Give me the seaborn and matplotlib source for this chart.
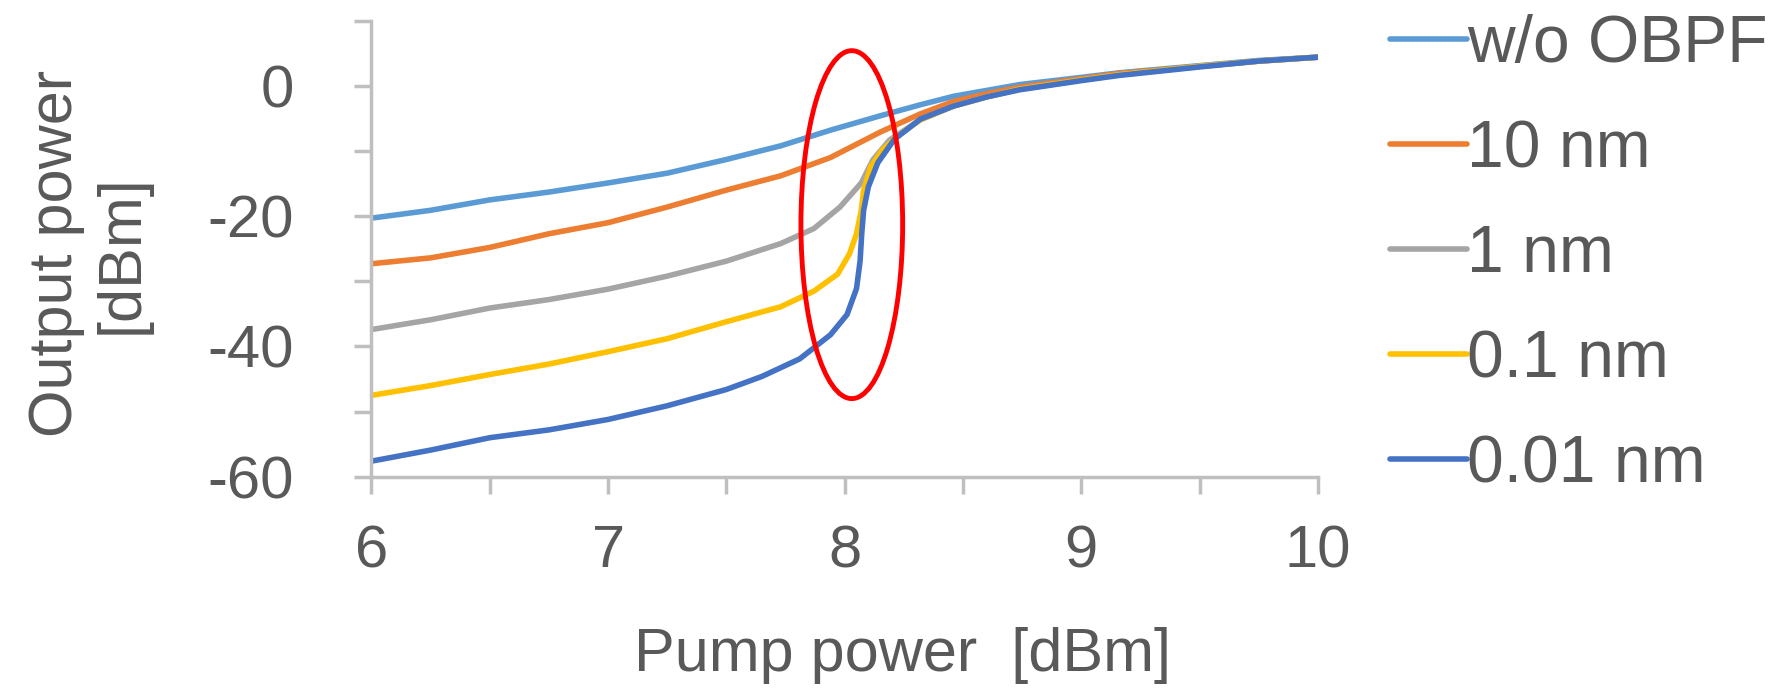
import numpy as np
import pandas as pd
import seaborn as sns
import matplotlib.pyplot as plt
from matplotlib.patches import Ellipse

sns.set_theme(style="white")
plt.rcParams['font.family'] = ['Liberation Sans', 'DejaVu Sans']

# curves (pump power [dBm] -> output power [dBm])
x_wo = [6.0, 6.25, 6.5, 6.75, 7.0, 7.25, 7.5, 7.73, 7.94, 8.15, 8.32, 8.46, 8.6, 8.74, 9.0, 9.16, 9.5, 9.75, 10.0]
y_wo = [-20.3, -19.1, -17.5, -16.3, -14.9, -13.4, -11.3, -9.2, -6.8, -4.6, -2.9, -1.6, -0.7, 0.2, 1.3, 2.0, 3.1, 3.9, 4.4]

x_10 = [6.0, 6.25, 6.5, 6.75, 7.0, 7.25, 7.5, 7.73, 7.94, 8.15, 8.32, 8.46, 8.6, 8.74, 9.0, 9.16, 9.5, 9.75, 10.0]
y_10 = [-27.3, -26.4, -24.8, -22.7, -21.0, -18.6, -16.0, -13.8, -11.0, -7.1, -4.3, -2.4, -1.2, -0.2, 1.1, 1.9, 3.0, 3.8, 4.4]

x_1 = [6.0, 6.25, 6.5, 6.75, 7.0, 7.25, 7.5, 7.73, 7.87, 7.98, 8.07, 8.12, 8.19, 8.32, 8.46, 8.6, 8.74, 9.0, 9.16, 9.5, 9.75, 10.0]
y_1 = [-37.4, -35.9, -34.1, -32.8, -31.2, -29.2, -26.9, -24.2, -21.9, -18.6, -14.9, -11.3, -8.3, -5.2, -3.1, -1.7, -0.5, 0.9, 1.7, 3.0, 3.8, 4.4]

x_01 = [6.0, 6.25, 6.5, 6.75, 7.0, 7.25, 7.5, 7.73, 7.87, 7.97, 8.02, 8.05, 8.07, 8.08, 8.11, 8.16, 8.22, 8.32, 8.46, 8.6, 8.74, 9.0, 9.16, 9.5, 9.75, 10.0]
y_01 = [-47.5, -46.0, -44.3, -42.7, -40.8, -38.8, -36.2, -33.9, -31.5, -28.9, -25.8, -22.7, -19.1, -16.0, -12.4, -9.8, -7.8, -5.2, -3.1, -1.7, -0.5, 0.9, 1.7, 3.0, 3.8, 4.4]

x_001 = [6.0, 6.25, 6.5, 6.75, 7.0, 7.25, 7.5, 7.65, 7.81, 7.94, 8.01, 8.05, 8.065, 8.072, 8.08, 8.1, 8.14, 8.21, 8.32, 8.46, 8.6, 8.74, 9.0, 9.16, 9.5, 9.75, 10.0]
y_001 = [-57.6, -55.9, -54.0, -52.8, -51.2, -49.1, -46.6, -44.6, -41.9, -38.2, -35.1, -31.1, -26.9, -22.7, -19.1, -15.5, -11.8, -8.2, -5.1, -3.1, -1.7, -0.6, 0.8, 1.6, 2.9, 3.8, 4.4]

labels = ["w/o OBPF", "10 nm", "1 nm", "0.1 nm", "0.01 nm"]
colors = ["#5B9BD5", "#ED7D31", "#A5A5A5", "#FFC000", "#4472C4"]

x_ticks = [6, 6.5, 7, 7.5, 8, 8.5, 9, 9.5, 10]
x_ticklabels = ["6", "", "7", "", "8", "", "9", "", "10"]
y_ticks = [-60, -50, -40, -30, -20, -10, 0, 10]
y_ticklabels = ["-60", "", "-40", "", "-20", "", "0", ""]

# red ellipse marking the transition region (data coords)
ell_center = (8.03, -21.3)
ell_width = 0.43
ell_height = 53.4

xs = [x_wo, x_10, x_1, x_01, x_001]
ys = [y_wo, y_10, y_1, y_01, y_001]
df = pd.concat([pd.DataFrame({"pump": x, "out": y, "filter": lab})
                for x, y, lab in zip(xs, ys, labels)], ignore_index=True)

text_c = "#595959"
axis_c = "#BFBFBF"

fig = plt.figure(figsize=(17.69, 6.90), dpi=100)
ax = fig.add_axes([0.210, 0.309, 0.535, 0.661])

sns.lineplot(data=df, x="pump", y="out", hue="filter", hue_order=labels,
             palette=dict(zip(labels, colors)), linewidth=4, estimator=None,
             ax=ax)

ax.add_patch(Ellipse(ell_center, ell_width, ell_height, fill=False,
                     edgecolor="#FF0000", linewidth=3.5, zorder=5))

ax.set_xlim(6, 10)
ax.set_ylim(-60, 10)
ax.set_xticks(x_ticks)
ax.set_xticklabels(x_ticklabels)
ax.set_yticks(y_ticks)
ax.set_yticklabels(y_ticklabels)

for s in ["top", "right"]:
    ax.spines[s].set_visible(False)
for s in ["left", "bottom"]:
    ax.spines[s].set_color(axis_c)
    ax.spines[s].set_linewidth(2.5)

ax.tick_params(axis="both", which="major", direction="out", length=12, width=2.5,
               color=axis_c, labelsize=43, labelcolor=text_c)
ax.tick_params(axis="y", pad=44)
ax.tick_params(axis="x", pad=22)
ax.tick_params(left=True, bottom=True)

ax.set_xlabel("Pump power  [dBm]", fontsize=44, color=text_c)
ax.xaxis.set_label_coords(0.561, -0.33)
ax.set_ylabel("Output power\n[dBm]", fontsize=44, color=text_c, linespacing=1.2)
ax.yaxis.set_label_coords(-0.233, 0.489)

leg = ax.legend(loc="upper left", bbox_to_anchor=(1390 / 1769, 0.979),
                bbox_transform=fig.transFigure, frameon=False, fontsize=47.5,
                handlelength=1.17, handletextpad=0.0, labelspacing=0.65,
                borderpad=0, borderaxespad=0)
for t in leg.get_texts():
    t.set_color(text_c)
for h in leg.get_lines():
    h.set_linewidth(4)

fig.savefig("out.png", dpi=100)
